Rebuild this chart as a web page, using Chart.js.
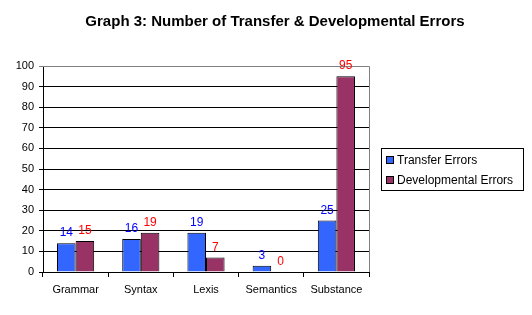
<!DOCTYPE html>
<html>
<head>
<meta charset="utf-8">
<script src="https://cdn.jsdelivr.net/npm/chart.js@4/dist/chart.umd.min.js"></script>
<style>
  html, body { margin: 0; padding: 0; background: #fff; }
  #wrap { width: 532px; height: 315px; }
</style>
</head>
<body>
<div id="wrap"><canvas id="chart" width="532" height="315"></canvas></div>
<script>
const categories = ["Grammar", "Syntax", "Lexis", "Semantics", "Substance"];
const transferErrors = [14, 16, 19, 3, 25];
const developmentalErrors = [15, 19, 7, 0, 95];
const seriesNames = ["Transfer Errors", "Developmental Errors"];
const chartTitle = "Graph 3: Number of Transfer & Developmental Errors";

const labelColors = ["#0000FF", "#FF0000"];

// title, data labels, legend box and the grey plot border
const extras = {
  id: "extras",
  afterDraw(chart) {
    const ctx = chart.ctx;
    const area = chart.chartArea;
    ctx.save();

    ctx.font = "bold 15px Arial, 'Liberation Sans', sans-serif";
    ctx.fillStyle = "#000";
    ctx.textAlign = "center";
    ctx.textBaseline = "middle";
    ctx.fillText(chartTitle, 275, 22);

    ctx.strokeStyle = "#808080";
    ctx.lineWidth = 1;
    ctx.beginPath();
    ctx.moveTo(area.left, area.top + 0.5);
    ctx.lineTo(area.right + 0.5, area.top + 0.5);
    ctx.lineTo(area.right + 0.5, area.bottom);
    ctx.stroke();

    ctx.font = "12px Arial, 'Liberation Sans', sans-serif";
    ctx.textBaseline = "alphabetic";
    chart.data.datasets.forEach((ds, i) => {
      const meta = chart.getDatasetMeta(i);
      ctx.fillStyle = labelColors[i];
      meta.data.forEach((bar, j) => {
        ctx.fillText(String(ds.data[j]), bar.x, bar.y - 7);
      });
    });

    const lx = 381, ly = 148, lw = 142, lh = 42;
    ctx.strokeStyle = "#000";
    ctx.strokeRect(lx + 0.5, ly + 0.5, lw, lh);
    ctx.textAlign = "left";
    ctx.textBaseline = "middle";
    chart.data.datasets.forEach((ds, i) => {
      const cy = ly + 12 + i * 20;
      ctx.fillStyle = ds.backgroundColor;
      ctx.fillRect(387, cy - 3, 6, 6);
      ctx.strokeRect(386.5, cy - 3.5, 7, 7);
      ctx.fillStyle = "#000";
      ctx.fillText(ds.label, 397, cy + 1);
    });

    ctx.restore();
  }
};

new Chart(document.getElementById("chart"), {
  type: "bar",
  data: {
    labels: categories,
    datasets: [
      {
        label: seriesNames[0],
        data: transferErrors,
        backgroundColor: "#3366FF",
        borderColor: "#000",
        borderWidth: 1
      },
      {
        label: seriesNames[1],
        data: developmentalErrors,
        backgroundColor: "#993366",
        borderColor: "#000",
        borderWidth: 1
      }
    ]
  },
  options: {
    responsive: false,
    animation: false,
    devicePixelRatio: 1,
    categoryPercentage: 0.57,
    barPercentage: 1,
    layout: { padding: { top: 66, right: 163, bottom: 0, left: 0 } },
    plugins: {
      legend: { display: false },
      title: { display: false },
      tooltip: { enabled: false }
    },
    scales: {
      x: {
        grid: {
          drawOnChartArea: false,
          drawTicks: true,
          tickLength: 5,
          color: "#000",
          offset: true
        },
        border: { color: "#000" },
        ticks: {
          color: "#000",
          padding: 6,
          font: { family: "Arial, 'Liberation Sans', sans-serif", size: 11 },
          maxRotation: 0
        },
        afterFit: (s) => { s.height = 43; }
      },
      y: {
        min: 0,
        max: 100,
        ticks: {
          stepSize: 10,
          color: "#000",
          padding: 5,
          font: { family: "Arial, 'Liberation Sans', sans-serif", size: 11 }
        },
        grid: {
          color: (c) => (c.tick && c.tick.value === 100 ? "#808080" : "#000"),
          tickLength: 4
        },
        border: { color: "#000" },
        afterFit: (s) => { s.width = 43; }
      }
    }
  },
  plugins: [extras]
});
</script>
</body>
</html>
